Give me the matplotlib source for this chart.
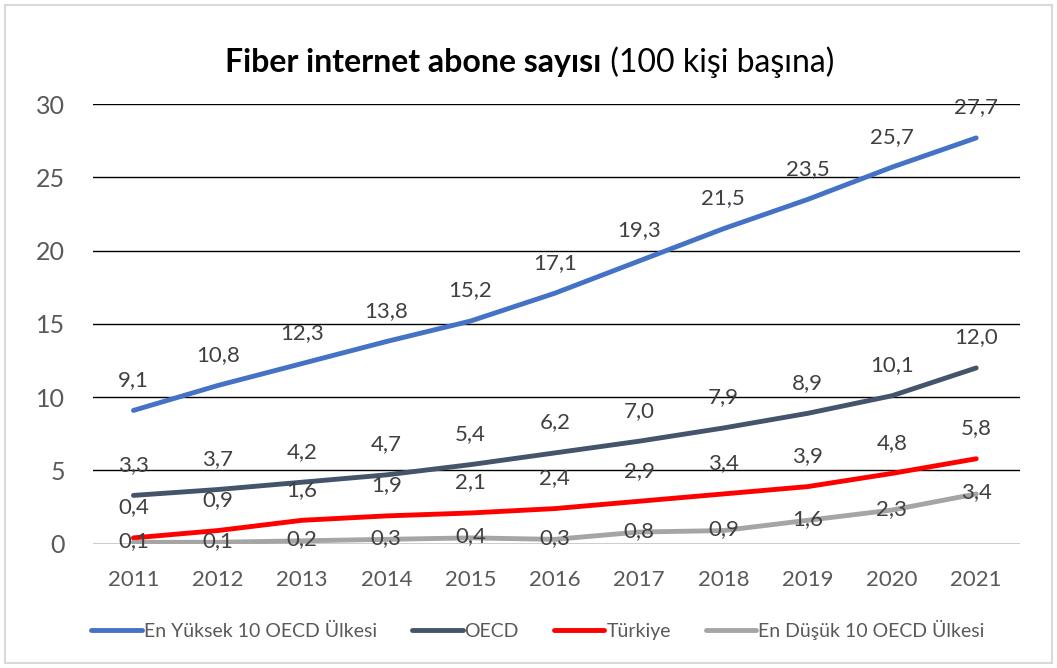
"""
fiber internet subscriptions per 100 people
"""

import matplotlib
matplotlib.use('Agg')
from matplotlib import pyplot as plt
from matplotlib.patches import Rectangle

years = [2011, 2012, 2013, 2014, 2015, 2016, 2017, 2018, 2019, 2020, 2021]
top10 = [9.1, 10.8, 12.3, 13.8, 15.2, 17.1, 19.3, 21.5, 23.5, 25.7, 27.7]
oecd = [3.3, 3.7, 4.2, 4.7, 5.4, 6.2, 7.0, 7.9, 8.9, 10.1, 12.0]
turkiye = [0.4, 0.9, 1.6, 1.9, 2.1, 2.4, 2.9, 3.4, 3.9, 4.8, 5.8]
bottom10 = [0.1, 0.1, 0.2, 0.3, 0.4, 0.3, 0.8, 0.9, 1.6, 2.3, 3.4]

series_names = ['En Yüksek 10 OECD Ülkesi', 'OECD', 'Türkiye', 'En Düşük 10 OECD Ülkesi']
colors = ['#4472C4', '#44546A', '#FF0000', '#A5A5A5']
# label offset above the point (points); the lowest series is labelled on the line
label_offsets = [22, 22, 22, 1]

plt.rcParams['font.family'] = ['Lato', 'DejaVu Sans']
grey = '#595959'

fig = plt.figure(figsize=(10.57, 6.68), dpi=100)
ax = fig.add_axes([0.088, 0.186, 0.877, 0.658])

all_series = [top10, oecd, turkiye, bottom10]
for vals, name, c, off in zip(all_series, series_names, colors, label_offsets):
    ax.plot(years, vals, color=c, lw=3.5, label=name, solid_capstyle='round')
    for x, v in zip(years, vals):
        ax.annotate(('%.1f' % v).replace('.', ','), (x, v), xytext=(0, off),
                    textcoords='offset points', ha='center', va='center',
                    fontsize=16, color='#404040')

ax.set_xlim(2010.52, 2021.52)
ax.set_ylim(0, 30)
ax.set_yticks(range(0, 31, 5))
ax.set_xticks(years)
ax.grid(axis='y', color='black', lw=1)
ax.set_axisbelow(True)
for s in ax.spines.values():
    s.set_visible(False)
ax.tick_params(length=0, labelcolor=grey)
ax.tick_params(axis='y', labelsize=18, pad=20)
ax.tick_params(axis='x', labelsize=16, pad=19)

# title: bold part then normal part, centred together
t1 = fig.text(0, 0.907, 'Fiber internet abone sayısı', ha='left', va='center',
              fontsize=23, fontweight='bold', color='black')
t2 = fig.text(0, 0.907, ' (100 kişi başına)', ha='left', va='center',
              fontsize=23, color='black')
fig.canvas.draw()
w1 = t1.get_window_extent().width / fig.bbox.width
w2 = t2.get_window_extent().width / fig.bbox.width
x0 = 0.501 - (w1 + w2) / 2
t1.set_x(x0)
t2.set_x(x0 + w1)

fig.legend(*ax.get_legend_handles_labels(), loc='center', bbox_to_anchor=(0.509, 0.057),
           ncol=4, frameon=False, fontsize=14, labelcolor=grey, handlelength=2.6,
           handletextpad=0.1, columnspacing=1.8)

fig.patches.append(Rectangle((0.005, 0.007), 0.99, 0.985, transform=fig.transFigure,
                             fill=False, ec='#D9D9D9', lw=1.5))

fig.savefig('out.png', dpi=100)
